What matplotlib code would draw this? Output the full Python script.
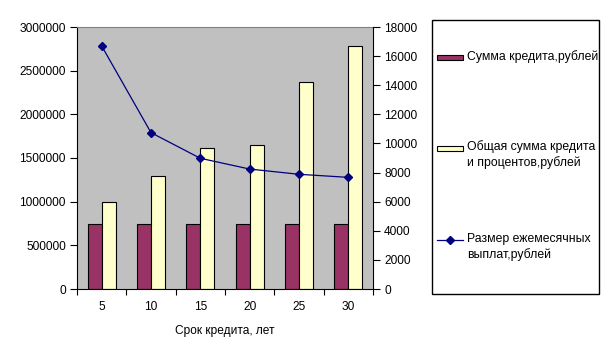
import matplotlib
matplotlib.use('Agg')
import numpy as np
import matplotlib.pyplot as plt
from matplotlib.patches import Rectangle
from matplotlib.lines import Line2D

plt.rcParams['font.family'] = ['Liberation Sans', 'DejaVu Sans']
plt.rcParams['font.size'] = 8.6

years = ['5', '10', '15', '20', '25', '30']
credit = [745000, 745000, 745000, 745000, 745000, 745000]
total = [996000, 1294000, 1614000, 1645000, 2370000, 2782000]
monthly = [16700, 10740, 8980, 8240, 7880, 7670]

label_credit = 'Сумма кредита,рублей'
label_total = 'Общая сумма кредита\nи процентов,рублей'
label_monthly = 'Размер ежемесячных\nвыплат,рублей'

maroon = '#993366'
cream = '#FFFFCC'
navy = '#000080'

W, H = 605, 359
fig = plt.figure(figsize=(W / 100, H / 100), dpi=100)
ax = fig.add_axes([77 / W, 1 - 289 / H, (373 - 77) / W, (289 - 27) / H])
ax.set_facecolor('#C0C0C0')

x = np.arange(1, len(years) + 1)
bw = 0.284
ax.bar(x - bw / 2, credit, bw, color=maroon, edgecolor='black', linewidth=0.8, zorder=2)
ax.bar(x + bw / 2, total, bw, color=cream, edgecolor='black', linewidth=0.8, zorder=2)

ax.set_xlim(0.5, len(years) + 0.5)
ax.set_ylim(0, 3000000)
ax.set_yticks(np.arange(0, 3000001, 500000))
ax.set_yticklabels([str(v) for v in range(0, 3000001, 500000)])
ax.set_xticks(np.arange(0.5, len(years) + 1, 1))
ax.set_xticklabels([])
ax.set_xticks(x, minor=True)
ax.set_xticklabels(years, minor=True)
ax.tick_params(axis='x', which='minor', length=0, pad=9)
ax.tick_params(axis='x', which='major', length=4, direction='out', width=0.8)
ax.tick_params(axis='y', length=5, width=0.8, direction='out', pad=3)
ax.spines['top'].set_color('#808080')
ax.spines['right'].set_visible(False)
ax.set_xlabel('Срок кредита, лет', labelpad=8)

ax2 = ax.twinx()
ax2.plot(x, monthly, color=navy, linewidth=0.9, marker='D', markersize=4.5, zorder=3)
ax2.set_ylim(0, 18000)
ax2.set_yticks(np.arange(0, 18001, 2000))
ax2.tick_params(axis='y', length=5, width=0.8, direction='out', pad=3)
for s in ['top', 'left', 'bottom']:
    ax2.spines[s].set_visible(False)
ax2.spines['right'].set_linewidth(0.8)

# legend box drawn by hand to match the spread-out layout
def fx(px):
    return px / W

def fy(py):
    return 1 - py / H

tf = fig.transFigure
fig.add_artist(Rectangle((fx(432), fy(294)), fx(599) - fx(432), fy(20) - fy(294),
                         transform=tf, facecolor='white', edgecolor='black', linewidth=1))
fig.add_artist(Rectangle((fx(437), fy(60)), fx(463) - fx(437), fy(55) - fy(60),
                         transform=tf, facecolor=maroon, edgecolor='black', linewidth=0.8))
fig.text(fx(467), fy(57), label_credit, va='center', ha='left', fontsize=8.8)
fig.add_artist(Rectangle((fx(437), fy(151)), fx(463) - fx(437), fy(146) - fy(151),
                         transform=tf, facecolor=cream, edgecolor='black', linewidth=0.8))
fig.text(fx(467), fy(140), label_total, va='top', ha='left', linespacing=1.35, fontsize=8.8)
fig.add_artist(Line2D([fx(437), fx(463)], [fy(240), fy(240)], transform=tf,
                      color=navy, linewidth=0.9))
fig.add_artist(Line2D([fx(450)], [fy(240)], transform=tf, color=navy,
                      marker='D', markersize=4.5, linestyle='none'))
fig.text(fx(467), fy(233), label_monthly, va='top', ha='left', linespacing=1.35, fontsize=8.8)

fig.savefig('out.png', dpi=100)
